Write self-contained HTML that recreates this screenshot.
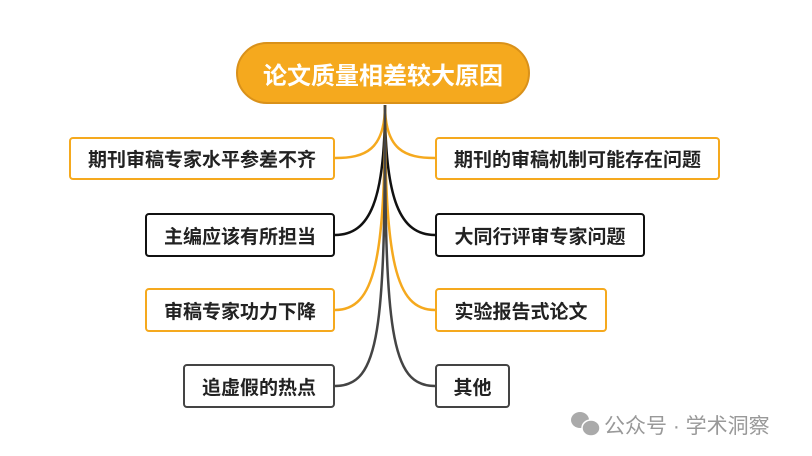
<!DOCTYPE html>
<html><head><meta charset="utf-8"><style>
body{margin:0;width:812px;height:456px;background:#fff;overflow:hidden;position:relative;font-family:"Liberation Sans","Noto Sans CJK SC",sans-serif}
.b{position:absolute;box-sizing:border-box;border:2px solid #F5A91E;border-radius:4px;background:#fff;font-weight:bold;font-size:19px;color:#222;display:flex;align-items:center;justify-content:center}
.k{border-color:#111}.g{border-color:#444}
.t{position:absolute;left:236px;top:42px;width:294px;height:62px;box-sizing:border-box;background:#F5A91E;border:2px solid #D9911A;border-radius:31px;color:#fff;font-weight:bold;font-size:24px;display:flex;align-items:center;justify-content:center}
svg{position:absolute;left:0;top:0}
.wm{position:absolute;top:410px;font-size:21px;color:#999;white-space:nowrap}
</style></head><body>
<svg width="812" height="456" fill="none" stroke-width="2.5">
<path d="M385,105 C385,150 365,158 335,158" stroke="#F5A91E"/>
<path d="M385,105 C385,200 370,235 335,235" stroke="#111"/>
<path d="M385,105 C385,260 375,310 335,310" stroke="#F5A91E"/>
<path d="M385,105 C385,330 380,386 335,386" stroke="#444"/>
<path d="M385,105 C385,150 405,158 435,158" stroke="#F5A91E"/>
<path d="M385,105 C385,200 400,235 435,235" stroke="#111"/>
<path d="M385,105 C385,260 395,310 435,310" stroke="#F5A91E"/>
<path d="M385,105 C385,330 390,386 435,386" stroke="#444"/>
<g fill="#aaa" stroke="none"><ellipse cx="580" cy="420" rx="9" ry="8"/><ellipse cx="591" cy="428" rx="9" ry="8" stroke="#fff" stroke-width="1.5"/></g>
</svg>
<div class="t">论文质量相差较大原因</div>
<div class="b" style="left:69px;top:137px;width:266px;height:43px">期刊审稿专家水平参差不齐</div>
<div class="b k" style="left:145px;top:213px;width:190px;height:44px">主编应该有所担当</div>
<div class="b" style="left:145px;top:288px;width:190px;height:44px">审稿专家功力下降</div>
<div class="b g" style="left:183px;top:364px;width:152px;height:44px">追虚假的热点</div>
<div class="b" style="left:435px;top:137px;width:285px;height:43px">期刊的审稿机制可能存在问题</div>
<div class="b k" style="left:435px;top:213px;width:210px;height:44px">大同行评审专家问题</div>
<div class="b" style="left:435px;top:288px;width:172px;height:44px">实验报告式论文</div>
<div class="b g" style="left:435px;top:364px;width:75px;height:44px">其他</div>
<div class="wm" style="left:604px">公众号 · 学术洞察</div>
</body></html>
